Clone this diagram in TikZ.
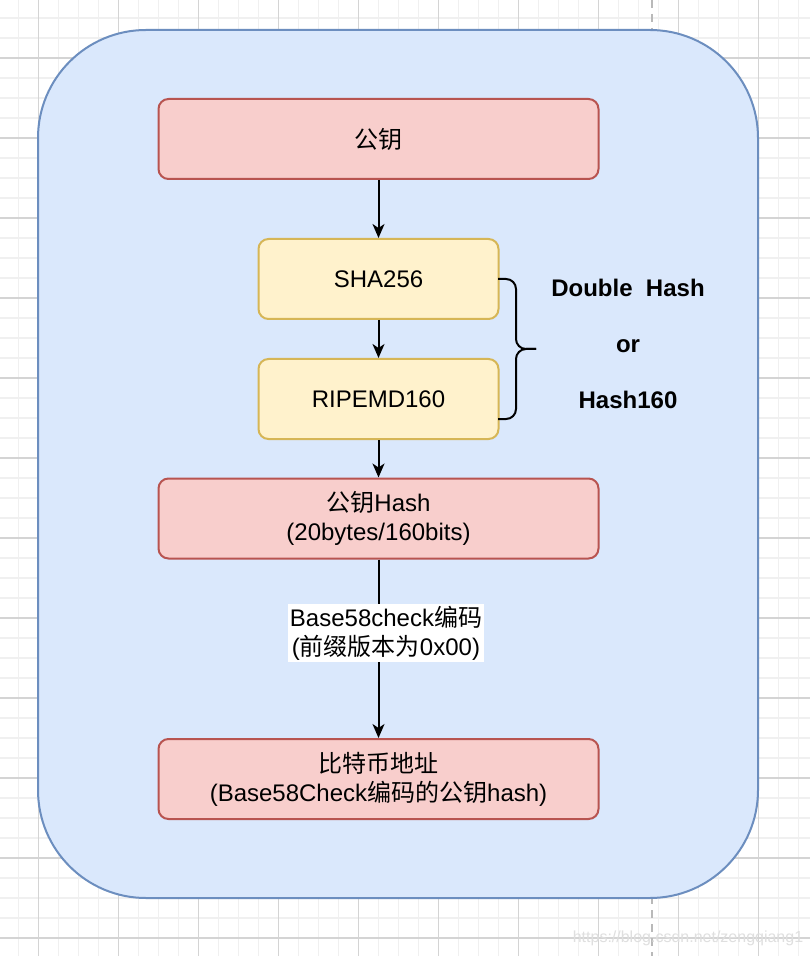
\documentclass[tikz,border=0pt]{standalone}
\usepackage{fontspec}
\setmainfont{Liberation Sans}
\newfontfamily\cjk{Noto Sans CJK SC}
\usetikzlibrary{arrows.meta}
\newcommand{\zh}[1]{{\cjk #1}}
\definecolor{bluefill}{HTML}{DAE8FC}
\definecolor{blueline}{HTML}{6C8EBF}
\definecolor{redfill}{HTML}{F8CECC}
\definecolor{redline}{HTML}{B85450}
\definecolor{yellowfill}{HTML}{FFF2CC}
\definecolor{yellowline}{HTML}{D6B656}
\definecolor{gridminor}{HTML}{F0F0F0}
\definecolor{gridmajor}{HTML}{D4D4D4}

\begin{document}
\begin{tikzpicture}[x=0.5pt,y=-0.5pt,
    redbox/.style={draw=redline,fill=redfill,line width=1pt,rounded corners=5pt,
        minimum width=220pt,minimum height=40pt,align=center,
        font=\fontsize{12}{14.4}\selectfont},
    yellowbox/.style={redbox,draw=yellowline,fill=yellowfill,minimum width=120pt},
    arr/.style={-{Stealth[length=7pt,width=6pt,inset=2pt]},line width=1pt}]
    \useasboundingbox (0,0) rectangle (810,956);
    \fill[white] (0,0) rectangle (810,956);

    % background grid
    \foreach \gx in {0,...,39} \draw[gridminor,line width=0.8pt] (18.5+20*\gx,0) -- (18.5+20*\gx,956);
    \foreach \gy in {0,...,46} \draw[gridminor,line width=0.8pt] (0,18+20*\gy) -- (810,18+20*\gy);
    \foreach \gx in {0,...,9} \draw[gridmajor,line width=0.6pt] (38.5+80*\gx,0) -- (38.5+80*\gx,956);
    \foreach \gy in {0,...,11} \draw[gridmajor,line width=0.6pt] (0,58+80*\gy) -- (810,58+80*\gy);
    \draw[gray!55,line width=1pt,dash pattern=on 4pt off 3pt] (652,0) -- (652,956);

    \draw[blueline,fill=bluefill,line width=1pt,rounded corners=54pt] (38,30) rectangle (758,898);

    \node[redbox] (pub) at (378.5,139) {\zh{公钥}};
    \node[yellowbox] (sha) at (378.5,279) {SHA256};
    \node[yellowbox] (ripemd) at (378.5,399) {RIPEMD160};
    \node[redbox] (pubhash) at (378.5,518.5) {\zh{公钥}Hash\\(20bytes/160bits)};
    \node[redbox] (addr) at (378.5,779) {\zh{比特币地址}\\(Base58Check\zh{编码的公钥}hash)};

    \draw[arr] (pub) -- (sha);
    \draw[arr] (sha) -- (ripemd);
    \draw[arr] (ripemd) -- (pubhash);
    \draw[arr] (pubhash) -- (addr);
    \node[fill=white,inner sep=1pt,align=center,font=\fontsize{12}{14.4}\selectfont] (enc) at (386,633)
        {Base58check\zh{编码}\\(\zh{前缀版本为}0x00)};

    % curly brace
    \coordinate (bracetop) at (498,279);
    \coordinate (bracebot) at (498,419);
    \coordinate (tip) at (536,349);
    \draw[line width=1pt,rounded corners=5pt] (bracetop) -- (516,279) -- (516,349) -- (tip);
    \draw[line width=1pt,rounded corners=5pt] (bracebot) -- (516,419) -- (516,349) -- (tip);
    \node[align=center,font=\fontsize{12}{28}\selectfont\bfseries] (dhash) at (628,344)
        {Double\ \ Hash\\or\\Hash160};

    \node[gray!25,font=\fontsize{8}{10}\selectfont] (mark) at (688,938) {https://blog.csdn.net/zengqiang1};
\end{tikzpicture}
\end{document}
